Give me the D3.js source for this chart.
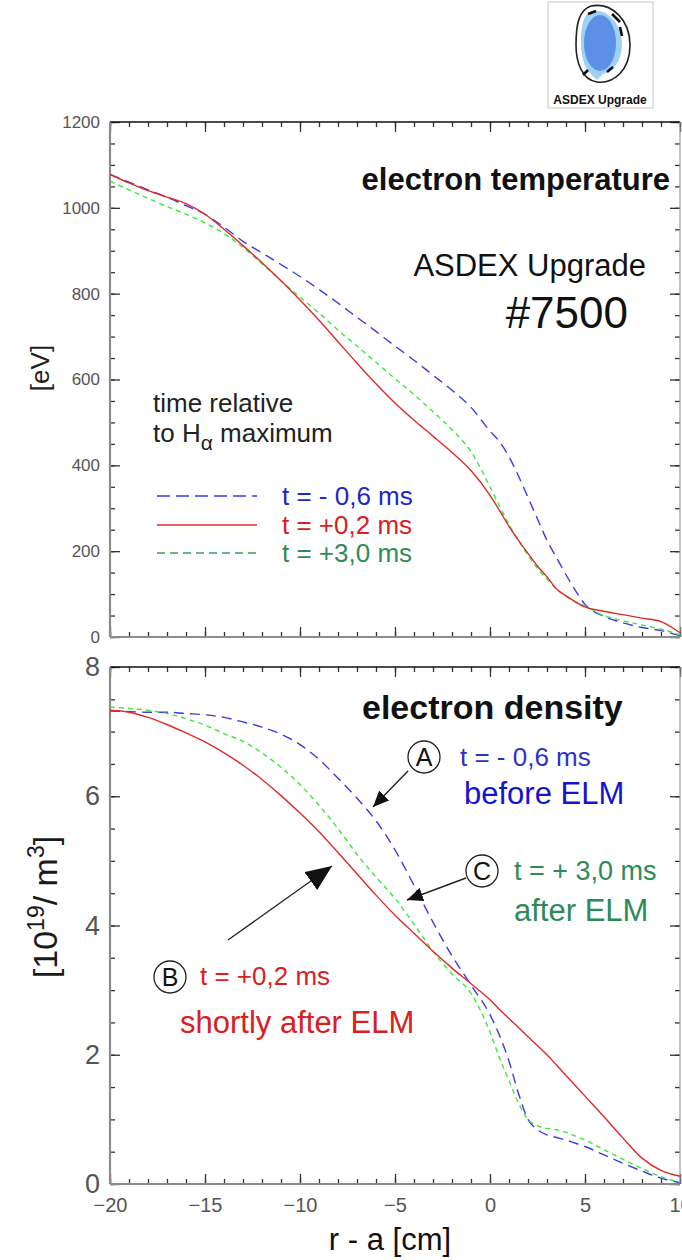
<!DOCTYPE html>
<html><head><meta charset="utf-8">
<script src="https://cdn.jsdelivr.net/npm/d3@7"></script>
<style>
html,body{margin:0;padding:0;background:#fff;}
svg{display:block;font-family:"Liberation Sans",Arial,Helvetica,sans-serif;}
</style></head>
<body>
<svg id="chart" width="682" height="1260"></svg>
<script>
// ---------------- data ----------------
const rGrid = [-20,-19,-18,-17,-16,-15,-14,-13,-12,-11,-10,-9,-8,-7,-6,-5,-4,-3,-2,-1,0,0.5,1,1.5,2,2.5,3,3.5,4,4.5,5,6,7,8,9,10];

// electron temperature [eV]
const teBlue  = [1078,1060,1042,1025,1005,985,955,922,895,868,840,810,778,745,712,678,645,610,575,535,480,455,420,375,325,275,225,185,145,108,76,48,33,22,15,3];
const teRed   = [1078,1058,1040,1025,1010,985,950,912,872,830,785,738,688,638,590,545,505,468,430,388,330,295,258,225,195,165,140,112,96,82,70,60,52,44,36,10];
const teGreen = [1062,1042,1022,1003,985,965,940,908,870,830,792,755,715,678,640,602,565,525,483,432,350,305,262,225,190,160,135,112,95,82,72,50,38,28,18,5];

// electron density [10^19 m^-3]
const neBlue  = [7.32,7.31,7.30,7.30,7.28,7.26,7.22,7.15,7.07,6.96,6.80,6.57,6.28,5.97,5.62,5.17,4.62,4.05,3.53,3.08,2.62,2.30,1.90,1.40,1.00,0.84,0.76,0.72,0.68,0.63,0.58,0.45,0.32,0.20,0.09,0.02];
const neRed   = [7.33,7.30,7.22,7.11,6.98,6.84,6.67,6.48,6.26,6.01,5.74,5.45,5.13,4.80,4.47,4.16,3.88,3.60,3.34,3.10,2.85,2.70,2.56,2.42,2.28,2.14,2.00,1.84,1.68,1.52,1.36,1.04,0.71,0.40,0.21,0.12];
const neGreen = [7.38,7.36,7.33,7.28,7.20,7.10,6.97,6.85,6.67,6.45,6.18,5.86,5.50,5.10,4.75,4.42,4.02,3.60,3.25,2.95,2.35,1.95,1.60,1.25,1.00,0.90,0.86,0.84,0.80,0.74,0.68,0.53,0.38,0.24,0.11,0.03];

const legendLabels = ["t = - 0,6 ms","t = +0,2 ms","t = +3,0 ms"];
const xMajor = [-20,-15,-10,-5,0,5,10];
const teMajor = [0,200,400,600,800,1000,1200];
const neMajor = [0,2,4,6,8];

// ---------------- setup ----------------
const svg = d3.select("#chart");
const x = d3.scaleLinear().domain([-20,10]).range([110,680]);
const yTe = d3.scaleLinear().domain([0,1200]).range([637,122]);
const yNe = d3.scaleLinear().domain([0,8]).range([1184,667]);

const C = {
  blue:"#3b3be6", red:"#e02a2a", green:"#3ee83e",
  blueTxt:"#2424c8", redTxt:"#d82020", greenTxt:"#2e8b57"
};
const styles = [
  {c:C.blue, dash:"10,6"},
  {c:C.red, dash:null},
  {c:C.green, dash:"5,4"}
];

function frame(y, yMajorVals, yMinorStep, labelSize, showXLabels){
  const [y0,y1] = y.domain();
  const top = y.range()[1], bot = y.range()[0];
  const g = svg.append("g");
  const xMinor = d3.range(-20,10.001,1);
  const yMinor = d3.range(y0,y1+1e-6,yMinorStep);
  const tickStyle = sel => { sel.selectAll(".tick line").attr("stroke","#333").attr("stroke-width",1.3); sel.select(".domain").remove(); };
  g.append("g").attr("transform",`translate(0,${bot})`).call(d3.axisBottom(x).tickValues(xMinor).tickSize(-5).tickFormat("")).call(tickStyle);
  const bx = g.append("g").attr("transform",`translate(0,${bot})`).call(d3.axisBottom(x).tickValues(xMajor).tickSize(-10).tickPadding(14).tickFormat(showXLabels?d3.format("d"):"")).call(tickStyle);
  bx.selectAll("text").attr("font-size",20).attr("fill","#555").attr("font-family","Liberation Sans, Arial, sans-serif");
  g.append("g").attr("transform",`translate(0,${top})`).call(d3.axisTop(x).tickValues(xMinor).tickSize(-5).tickFormat("")).call(tickStyle);
  g.append("g").attr("transform",`translate(0,${top})`).call(d3.axisTop(x).tickValues(xMajor).tickSize(-10).tickFormat("")).call(tickStyle);
  g.append("g").attr("transform",`translate(110,0)`).call(d3.axisLeft(y).tickValues(yMinor).tickSize(-5).tickFormat("")).call(tickStyle);
  const ly = g.append("g").attr("transform",`translate(110,0)`).call(d3.axisLeft(y).tickValues(yMajorVals).tickSize(-10).tickPadding(10).tickFormat(d3.format("d"))).call(tickStyle);
  ly.selectAll("text").attr("font-size",labelSize).attr("fill","#555").attr("font-family","Liberation Sans, Arial, sans-serif");
  g.append("g").attr("transform",`translate(680,0)`).call(d3.axisRight(y).tickValues(yMinor).tickSize(-5).tickFormat("")).call(tickStyle);
  g.append("g").attr("transform",`translate(680,0)`).call(d3.axisRight(y).tickValues(yMajorVals).tickSize(-10).tickFormat("")).call(tickStyle);
  g.append("line").attr("x1",110).attr("x2",680).attr("y1",top).attr("y2",top).attr("stroke","#111").attr("stroke-width",1.6);
  g.append("line").attr("x1",110).attr("x2",680).attr("y1",bot).attr("y2",bot).attr("stroke","#8c8c8c").attr("stroke-width",2.2);
  g.append("line").attr("x1",110).attr("x2",110).attr("y1",top).attr("y2",bot).attr("stroke","#8c8c8c").attr("stroke-width",2.2);
  g.append("line").attr("x1",680).attr("x2",680).attr("y1",top).attr("y2",bot).attr("stroke","#9a9a9a").attr("stroke-width",1.2);
}

function curves(y, series, clipId){
  const top = y.range()[1], bot = y.range()[0];
  svg.append("clipPath").attr("id",clipId).append("rect").attr("x",110).attr("y",top).attr("width",572).attr("height",bot-top);
  const line = d3.line().x((d,i)=>x(rGrid[i])).y(d=>y(d)).curve(d3.curveMonotoneX);
  const g = svg.append("g").attr("clip-path",`url(#${clipId})`);
  [0,2,1].forEach(k=>{
    g.append("path").attr("d",line(series[k])).attr("fill","none")
      .attr("stroke",styles[k].c).attr("stroke-width",1.4)
      .attr("stroke-dasharray",styles[k].dash);
  });
}

function txt(xp,yp,s,opt={}){
  return svg.append("text").attr("x",xp).attr("y",yp).text(s)
    .attr("font-size",opt.size||26).attr("fill",opt.fill||"#111")
    .attr("font-weight",opt.weight||"normal")
    .attr("text-anchor",opt.anchor||"start");
}

// ---------------- top panel ----------------
frame(yTe, teMajor, 50, 17, false);
curves(yTe, [teBlue,teRed,teGreen], "clipTe");

txt(670,190,"electron temperature",{size:31,weight:"bold",anchor:"end"});
txt(646,276,"ASDEX Upgrade",{size:31,anchor:"end"});
txt(628,328,"#7500",{size:44,anchor:"end"});

svg.append("text").attr("transform","translate(49,368) rotate(-90)").attr("text-anchor","middle")
  .attr("font-size",26).attr("fill","#222").text("[eV]");

txt(153,412,"time relative",{size:26,fill:"#222"});
const th = txt(153,442,"to H",{size:26,fill:"#222"});
th.append("tspan").attr("dy",8).attr("font-size",21).text("α");
th.append("tspan").attr("dy",-8).text(" maximum");

const legY = [496,525,553];
const legTxtC = [C.blueTxt,C.redTxt,C.greenTxt];
const legLineC = [C.blue,C.red,"#3a9e62"];
legendLabels.forEach((s,i)=>{
  svg.append("line").attr("x1",157).attr("x2",257).attr("y1",legY[i]).attr("y2",legY[i])
    .attr("stroke",legLineC[i]).attr("stroke-width",1.6)
    .attr("stroke-dasharray", i===0?"13,6":(i===2?"8,5":null));
  txt(282,legY[i]+9,s,{size:26,fill:legTxtC[i]});
});

// ---------------- bottom panel ----------------
frame(yNe, neMajor, 0.5, 27, true);
curves(yNe, [neBlue,neRed,neGreen], "clipNe");

txt(362,719,"electron density",{size:34,weight:"bold"});

svg.append("text").attr("transform","translate(57,907) rotate(-90)").attr("text-anchor","middle")
  .attr("font-size",34).attr("fill","#1a1a1a")
  .call(t=>{
    t.append("tspan").text("[10");
    t.append("tspan").attr("dy",-13).attr("font-size",23).text("19");
    t.append("tspan").attr("dy",13).text("/ m");
    t.append("tspan").attr("dy",-13).attr("font-size",23).text("3");
    t.append("tspan").attr("dy",13).text("]");
  });

const defs = svg.append("defs");
function marker(id,len,wid){
  defs.append("marker").attr("id",id).attr("markerUnits","userSpaceOnUse")
    .attr("markerWidth",len).attr("markerHeight",wid).attr("refX",len).attr("refY",wid/2)
    .attr("orient","auto").append("path").attr("d",`M0,0L${len},${wid/2}L0,${wid}Z`).attr("fill","#111");
}
marker("headS",16,14);
marker("headL",26,22);

function circ(cx,cy,letter){
  svg.append("circle").attr("cx",cx).attr("cy",cy).attr("r",16).attr("fill","#fff").attr("stroke","#222").attr("stroke-width",1.3);
  txt(cx,cy+9,letter,{size:25,anchor:"middle",fill:"#111"});
}
function arrow(x1,y1,x2,y2,m){
  svg.append("line").attr("x1",x1).attr("y1",y1).attr("x2",x2).attr("y2",y2)
    .attr("stroke","#222").attr("stroke-width",1.4).attr("marker-end",`url(#${m})`);
}

circ(424,757,"A");
txt(460,766,"t = - 0,6 ms",{size:26,fill:"#3030c8"});
txt(464,804,"before ELM",{size:31,fill:"#1414d0"});
arrow(408,771,373,807,"headS");

circ(482,871,"C");
txt(514,880,"t = + 3,0 ms",{size:27,fill:C.greenTxt});
txt(514,921,"after ELM",{size:31,fill:C.greenTxt});
arrow(466,878,407,900,"headS");

circ(170,977,"B");
txt(200,985,"t = +0,2 ms",{size:26,fill:C.redTxt});
txt(180,1033,"shortly after ELM",{size:31,fill:C.redTxt});
arrow(228,940,332,866,"headL");

txt(390,1250,"r - a [cm]",{size:31,anchor:"middle",fill:"#111"});

// ---------------- logo ----------------
const lg = svg.append("g");
lg.append("rect").attr("x",548).attr("y",2).attr("width",105).attr("height",106).attr("fill","#fff").attr("stroke","#c8c8c8").attr("stroke-width",1);
lg.append("path").attr("d","M591,6 C612,2 630,20 630,45 C630,71 613,84 597,82 C582,80 576,62 576,45 C576,24 579,10 591,6 Z")
  .attr("fill","#fff").attr("stroke","#222").attr("stroke-width",1.6);
lg.append("path").attr("d","M592,11 C610,8 622,27 622,44 C622,62 612,72 603,74 L597,80 L591,74 C584,68 581,55 581,42 C581,25 584,13 592,11 Z")
  .attr("fill","#9fd0f5");
lg.append("ellipse").attr("cx",600).attr("cy",43).attr("rx",16).attr("ry",28).attr("fill","#5c8fe6");
[[612,14,620,22],[620,27,622,36],[583,75,588,70],[607,72,613,67],[588,14,596,11]].forEach(s=>{
  lg.append("line").attr("x1",s[0]).attr("y1",s[1]).attr("x2",s[2]).attr("y2",s[3]).attr("stroke","#111").attr("stroke-width",2.6);
});
lg.append("text").attr("x",600).attr("y",104).attr("text-anchor","middle").attr("font-size",12).attr("font-weight","bold").attr("fill","#111").text("ASDEX Upgrade");
</script>
</body></html>
